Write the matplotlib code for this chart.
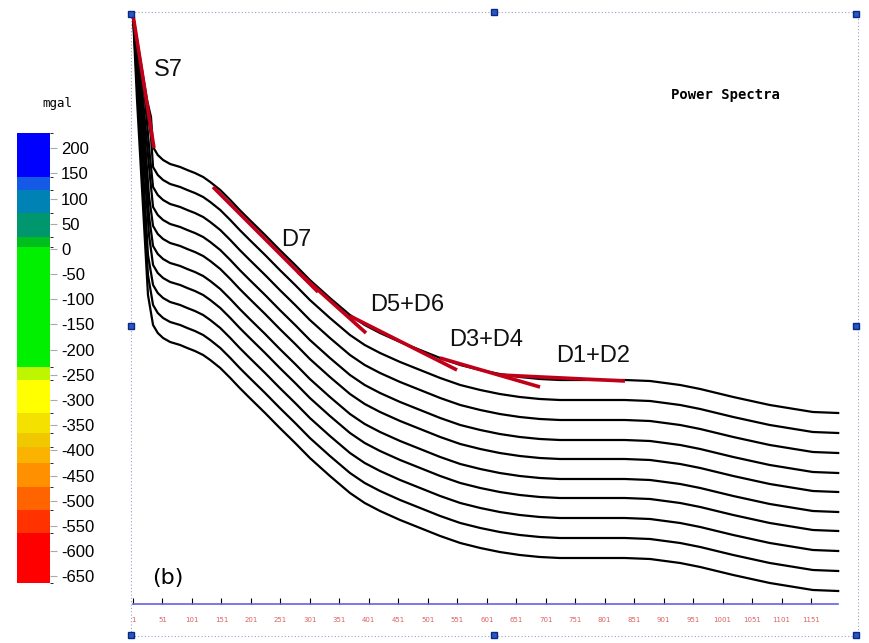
import matplotlib
matplotlib.use("Agg")
import matplotlib.pyplot as plt
from matplotlib.colors import ListedColormap, BoundaryNorm
from matplotlib.cm import ScalarMappable
from matplotlib.patches import Rectangle

# shared curve shape (top curve), x = frequency index, y = log power
tail_x = [35, 43, 52, 64, 81, 93, 106, 120, 132, 149, 166, 182, 199, 225, 250, 276,
          301, 335, 369, 394, 420, 454, 488, 522, 556, 590, 623, 657, 691, 725, 759,
          793, 835, 878, 929, 963, 1019, 1081, 1154, 1197]
tail_y = [45.7, 44.9, 44.4, 44.0, 43.7, 43.4, 43.1, 42.7, 42.2, 41.4, 40.4, 39.4, 38.4,
          36.9, 35.4, 33.9, 32.4, 30.6, 28.9, 27.9, 27.1, 26.2, 25.4, 24.6, 23.9, 23.4,
          23.0, 22.7, 22.5, 22.4, 22.4, 22.4, 22.4, 22.3, 21.9, 21.5, 20.7, 19.9, 19.2, 19.1]
# vertical drop of each of the 10 curves below the top one
shifts = [0.0, 2.0, 4.0, 6.0, 7.9, 9.9, 11.8, 13.8, 15.8, 17.8]
# steep start of each curve
head_start = (1, 58.9)
head_mid_x = [24.7, 23.0, 21.4, 18.0, 16.3, 14.6, 12.9, 11.2, 9.5, 7.8]
head_mid_y = 50.4
head_low_x = [31.5, 31.5, 29.8, 29.8, 28.1, 28.1, 28.1, 26.4, 26.4, 26.4]
head_low_y = [48.7, 46.7, 44.7, 42.7, 40.8, 38.8, 36.9, 34.9, 32.9, 30.9]

# red fitted segments: (x0, x1, y0, y1)
segments = [
    (1, 36.6, 58.9, 45.6),
    (136.7, 314.8, 41.7, 31.2),
    (280.8, 396.2, 33.2, 27.1),
    (369.0, 550.5, 28.8, 23.4),
    (521.7, 691.3, 24.6, 21.7),
    (623.4, 835.4, 22.9, 22.3),
]
seg_labels = ["S7", "D7", "D5+D6", "D3+D4", "D1+D2"]
seg_label_pos = [(60.4, 53.4), (277.4, 36.4), (465.7, 29.9), (599.7, 26.4), (781.2, 24.8)]

xticks = list(range(1, 1152, 50))

# colour scale (mgal)
cb_bounds = [-663, -564, -518, -473, -425, -393, -365, -326, -260, -235, 4, 23, 71, 117, 142, 230]
cb_colors = ["#ff0000", "#ff3200", "#ff6400", "#ff9100", "#fab400", "#f0c800", "#f5e100",
             "#ffff00", "#bef500", "#00f000", "#00be1e", "#00966e", "#0082b4", "#145ae6",
             "#0000ff"]
cb_ticks = list(range(200, -651, -50))

fig = plt.figure(figsize=(8.7, 6.43), dpi=100)

ax = fig.add_axes([131/870, 1 - 636/643, 727/870, 624/643])
ax.set_xlim(-2.4, 1230.6)
ax.set_ylim(-3.2, 59.2)

for k in range(len(shifts)):
    xs = [head_start[0], head_mid_x[k], head_low_x[k]] + tail_x
    ys = [head_start[1], head_mid_y, head_low_y[k]] + [v - shifts[k] for v in tail_y]
    ax.plot(xs, ys, color="black", lw=1.6, zorder=2)

for x0, x1, y0, y1 in segments:
    ax.plot([x0, x1], [y0, y1], color="#c00018", lw=2.6, solid_capstyle="butt", zorder=3)

for lab, (tx, ty) in zip(seg_labels, seg_label_pos):
    ax.text(tx, ty, lab, fontsize=17, ha="center", va="center",
            family="Liberation Sans", color="#111111")

ax.text(1005, 50.9, "Power Spectra", fontsize=10, ha="center", va="center",
        family="DejaVu Sans Mono", fontweight="bold")
ax.text(60.4, 2.6, "(b)", fontsize=16, ha="center", va="center", family="DejaVu Sans")

for s in ["left", "right", "top"]:
    ax.spines[s].set_visible(False)
ax.spines["bottom"].set_position(("data", 0))
ax.spines["bottom"].set_bounds(1, 1197)
ax.spines["bottom"].set_color("#6464e0")
ax.spines["bottom"].set_linewidth(1.2)
ax.set_yticks([])
ax.set_xticks(xticks)
ax.set_xticklabels([str(t) for t in xticks])
ax.tick_params(axis="x", direction="in", length=4, color="black", width=0.8,
               labelcolor="#e06060", labelsize=5, pad=9)

# dotted frame with handles
ax.add_patch(Rectangle((0, 0), 1, 1, transform=ax.transAxes, fill=False,
                       ls=(0, (1, 2)), lw=0.8, ec="#9aa4c0", clip_on=False))
hx = [0, 0.499, 0.997, 0, 0.997, 0, 0.499, 0.997]
hy = [0.997, 1.0, 0.997, 0.497, 0.497, 0.002, 0.002, 0.002]
ax.plot(hx, hy, "s", ms=5, color="#2855c8", mec="#0a2a80", transform=ax.transAxes,
        clip_on=False, zorder=5)

# colour bar
cax = fig.add_axes([17/870, 1 - 583/643, 33/870, 450/643])
sm = ScalarMappable(norm=BoundaryNorm(cb_bounds, len(cb_colors)), cmap=ListedColormap(cb_colors))
cb = fig.colorbar(sm, cax=cax, spacing="proportional", ticks=cb_ticks)
cb.outline.set_visible(False)
cb.ax.set_yticklabels([str(t) for t in cb_ticks])
cb.ax.tick_params(length=5, width=0.8, color="#aaaaaa", labelsize=12, pad=3)
for t in cb.ax.get_yticklabels():
    t.set_family("Liberation Sans")
fig.text(57/870, 1 - 103/643, "mgal", fontsize=9, ha="center", va="center",
         family="DejaVu Sans Mono")

fig.savefig("out.png", dpi=100)
